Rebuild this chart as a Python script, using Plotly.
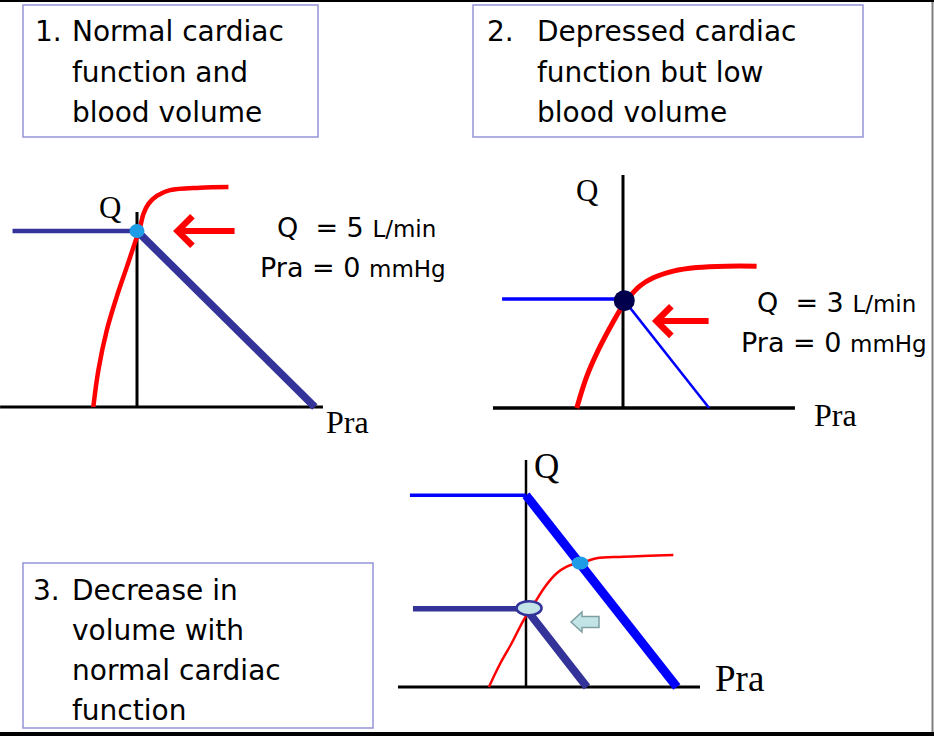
import plotly.graph_objects as go

W, H = 934, 736
SX, SY = 25.4, 35.2          # drawing scale: px per mmHg, px per L/min

# ---------------- data (Pra in mmHg, Q in L/min) ----------------
# Panel 1: normal cardiac function and blood volume
p1_co_pra = [-1.72, -1.52, -1.19, -0.80, -0.40, -0.08, 0.12, 0.25, 0.45, 0.78, 1.30, 2.48, 3.60]
p1_co_q = [0.00, 1.05, 2.18, 3.13, 3.98, 4.67, 5.10, 5.48, 5.77, 6.00, 6.16, 6.23, 6.25]
p1_vr_flat_pra = [-4.9, 0.0]
p1_vr_flat_q = [5.0, 5.0]
p1_vr_pra = [0.0, 7.0]
p1_vr_q = [5.0, 0.0]
p1_eq = [0.0, 5.0]
p1_axis_pra = [-5.39, 7.32]
p1_axis_q = [0.0, 5.54]

# Panel 2: depressed cardiac function, low blood volume
p2_co_pra = [-1.82, -1.43, -0.97, -0.44, -0.05, 0.28, 0.67, 1.19, 1.98, 2.90, 4.08, 5.26]
p2_co_q = [0.00, 0.89, 1.65, 2.38, 2.86, 3.18, 3.47, 3.70, 3.89, 3.99, 4.03, 4.03]
p2_vr_flat_pra = [-4.76, 0.0]
p2_vr_flat_q = [3.1, 3.1]
p2_vr_pra = [0.0, 3.39]
p2_vr_q = [3.1, 0.0]
p2_eq = [0.05, 3.05]
p2_axis_pra = [-5.12, 6.77]
p2_axis_q = [0.0, 6.62]

# Panel 3: decrease in volume with normal cardiac function
p3_co_pra = [-1.46, -1.02, -0.56, -0.11, 0.29, 0.75, 1.21, 1.60, 1.99, 2.32, 2.78, 3.83, 5.80]
p3_co_q = [0.00, 0.66, 1.25, 1.88, 2.33, 2.85, 3.23, 3.42, 3.52, 3.56, 3.66, 3.70, 3.75]
p3_hi_flat_pra = [-4.57, 0.0]
p3_hi_flat_q = [5.45, 5.45]
p3_hi_pra = [0.0, 5.94]
p3_hi_q = [5.45, 0.0]
p3_lo_flat_pra = [-4.45, 0.0]
p3_lo_flat_q = [2.22, 2.22]
p3_lo_pra = [0.0, 2.40]
p3_lo_q = [2.22, 0.0]
p3_eq_hi = [2.13, 3.52]
p3_eq_lo = [0.12, 2.24]
p3_axis_pra = [-5.04, 6.85]
p3_axis_q = [0.0, 6.45]

box_texts = [
    ["1.", "Normal cardiac", "function and", "blood volume"],
    ["2.", "Depressed cardiac", "function but low", "blood volume"],
    ["3.", "Decrease in", "volume with", "normal cardiac", "function"],
]

# ---------------- styling ----------------
SANS = "DejaVu Sans, Arial, sans-serif"
SERIF = "Liberation Serif, Times New Roman, serif"
RED = "#FF0000"
NAVY = "#333399"
BLUE = "#0000FF"
LIGHTBLUE = "#1E9DE6"
BOXLINE = "#9494DA"

origins = {1: (137, 407), 2: (623, 408), 3: (526, 687)}


def pxx(x):
    return x / W


def pxy(y):
    return 1 - y / H


fig = go.Figure()


def line(panel, xs, ys, color, width, spline=False):
    sfx = "" if panel == 1 else str(panel)
    fig.add_trace(go.Scatter(
        x=xs, y=ys, mode="lines", xaxis="x" + sfx, yaxis="y" + sfx,
        line=dict(color=color, width=width, shape="spline" if spline else "linear",
                  smoothing=1.0),
        hoverinfo="skip", showlegend=False))


# panel 1
line(1, p1_axis_pra, [0, 0], "black", 3)
line(1, [0, 0], p1_axis_q, "black", 3)
line(1, p1_co_pra, p1_co_q, RED, 4.5, spline=True)
line(1, p1_vr_flat_pra, p1_vr_flat_q, NAVY, 4.5)
line(1, p1_vr_pra, p1_vr_q, NAVY, 7.5)
# panel 2
line(2, p2_axis_pra, [0, 0], "black", 3.5)
line(2, [0, 0], p2_axis_q, "black", 3)
line(2, p2_co_pra, p2_co_q, RED, 5, spline=True)
line(2, p2_vr_flat_pra, p2_vr_flat_q, BLUE, 3.5)
line(2, p2_vr_pra, p2_vr_q, BLUE, 2.5)
# panel 3
line(3, p3_axis_pra, [0, 0], "black", 3)
line(3, [0, 0], p3_axis_q, "black", 2.5)
line(3, p3_co_pra, p3_co_q, RED, 2.5, spline=True)
line(3, p3_hi_flat_pra, p3_hi_flat_q, BLUE, 3.5)
line(3, p3_hi_pra, p3_hi_q, BLUE, 9)
line(3, p3_lo_flat_pra, p3_lo_flat_q, NAVY, 5.5)
line(3, p3_lo_pra, p3_lo_q, NAVY, 8)

layout_axes = {}
for p, (ox, oy) in origins.items():
    sfx = "" if p == 1 else str(p)
    layout_axes["xaxis" + sfx] = dict(range=[-ox / SX, (W - ox) / SX], domain=[0, 1],
                                      visible=False, fixedrange=True,
                                      anchor="y" + sfx)
    layout_axes["yaxis" + sfx] = dict(range=[-(H - oy) / SY, oy / SY], domain=[0, 1],
                                      visible=False, fixedrange=True,
                                      anchor="x" + sfx)

shapes = []


def ellipse(panel, pt, w, h, fill, outline=None, lw=0):
    sfx = "" if panel == 1 else str(panel)
    shapes.append(dict(type="circle", xref="x" + sfx, yref="y" + sfx,
                       xsizemode="pixel", ysizemode="pixel",
                       xanchor=pt[0], yanchor=pt[1],
                       x0=-w / 2, x1=w / 2, y0=-h / 2, y1=h / 2,
                       fillcolor=fill,
                       line=dict(color=outline or fill, width=lw),
                       layer="above"))


ellipse(1, p1_eq, 15, 14, LIGHTBLUE)
ellipse(2, p2_eq, 21, 21, "#00004D")
ellipse(3, p3_eq_hi, 17, 13, LIGHTBLUE)
ellipse(3, p3_eq_lo, 25, 14, "#C2E3E8", NAVY, 2.5)

# text boxes
for (x0, y0, x1, y1) in [(23, 5, 318, 137), (473, 5, 863, 137), (23, 563, 373, 728)]:
    shapes.append(dict(type="rect", xref="paper", yref="paper",
                       x0=pxx(x0), x1=pxx(x1), y0=pxy(y1), y1=pxy(y0),
                       line=dict(color=BOXLINE, width=1.5), fillcolor="rgba(0,0,0,0)"))

# small block arrow (panel 3)
cx, cy, L, hl, hh, bh = 585, 622, 28, 11, 20, 11
pts = [(cx - L / 2, cy), (cx - L / 2 + hl, cy - hh / 2), (cx - L / 2 + hl, cy - bh / 2),
       (cx + L / 2, cy - bh / 2), (cx + L / 2, cy + bh / 2), (cx - L / 2 + hl, cy + bh / 2),
       (cx - L / 2 + hl, cy + hh / 2)]
path = "M " + " L ".join(f"{pxx(a):.5f},{pxy(b):.5f}" for a, b in pts) + " Z"
shapes.append(dict(type="path", xref="paper", yref="paper", path=path,
                   fillcolor="#C2E4E6", line=dict(color="#7F9EA2", width=1.5)))

# frame edges
shapes.append(dict(type="rect", xref="paper", yref="paper", x0=0, x1=1,
                   y0=pxy(2), y1=1, fillcolor="black", line=dict(width=0)))
shapes.append(dict(type="rect", xref="paper", yref="paper", x0=0, x1=1,
                   y0=0, y1=pxy(732), fillcolor="black", line=dict(width=0)))
shapes.append(dict(type="rect", xref="paper", yref="paper", x0=pxx(931.5), x1=pxx(933.5),
                   y0=pxy(732), y1=pxy(2), fillcolor="#808080", line=dict(width=0)))

annotations = []


def text(x, y, s, size, family=SANS, xanchor="left"):
    annotations.append(dict(x=pxx(x), y=pxy(y), xref="paper", yref="paper", text=s,
                            showarrow=False, xanchor=xanchor, yanchor="middle",
                            font=dict(family=family, size=size, color="black")))


# box texts
box_pos = [(33, 70, 32), (485, 535, 32), (31, 70, 590)]
for (nx, tx, y0), lines in zip(box_pos, box_texts):
    text(nx, y0, lines[0], 28)
    for i, s in enumerate(lines[1:]):
        text(tx, y0 + 40 * i, s, 28)

# axis labels
text(110, 207, "Q", 31, SERIF, "center")
text(347, 422, "Pra", 32, SERIF, "center")
text(587, 190, "Q", 31, SERIF, "center")
text(835, 415, "Pra", 32, SERIF, "center")
text(546, 466, "Q", 35, SERIF, "center")
text(739, 678, "Pra", 37, SERIF, "center")

# values
small = "<span style='font-size:23px'>{}</span>"
text(356, 228, "Q\u00a0\u00a0= 5 " + small.format("L/min"), 27, SANS, "center")
text(353, 267, "Pra = 0 " + small.format("mmHg"), 27, SANS, "center")
text(836, 302, "Q\u00a0\u00a0= 3 " + small.format("L/min"), 27, SANS, "center")
text(834, 343, "Pra = 0 " + small.format("mmHg"), 27, SANS, "center")

# red arrows
for ref, tip, tail in [("", (1.42, 5.0), (3.9, 5.0)), ("2", (1.14, 2.47), (3.43, 2.47))]:
    annotations.append(dict(x=tip[0], y=tip[1], ax=tail[0], ay=tail[1],
                            xref="x" + ref, yref="y" + ref, axref="x" + ref, ayref="y" + ref,
                            text="", showarrow=True, arrowhead=4, arrowsize=0.95,
                            arrowwidth=6, arrowcolor=RED, standoff=0))

fig.update_layout(
    width=W, height=H, margin=dict(l=0, r=0, t=0, b=0),
    paper_bgcolor="white", plot_bgcolor="rgba(0,0,0,0)",
    showlegend=False, hovermode=False,
    shapes=shapes, annotations=annotations, **layout_axes)

fig.write_html("out.html", config={"displayModeBar": False},
               post_script="document.body.style.margin='0';")
